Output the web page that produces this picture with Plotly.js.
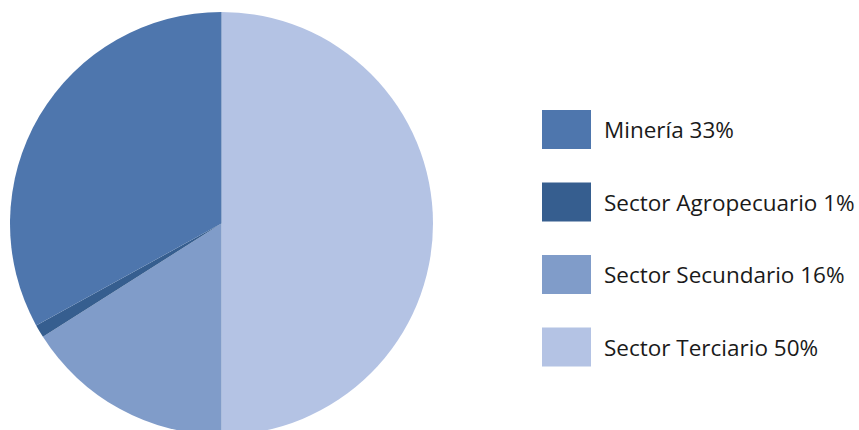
<!DOCTYPE html>
<html>
<head>
<meta charset="utf-8">
<script src="https://cdn.plot.ly/plotly-3.0.1.min.js"></script>
<style>
html,body{margin:0;padding:0;overflow:hidden;background:#fff;}
#chart{width:859px;height:460px;}
</style>
</head>
<body>
<div id="chart"></div>
<script>
const labels = ["Minería", "Sector Agropecuario", "Sector Secundario", "Sector Terciario"];
const values = [33, 1, 16, 50];
const colors = ["#4E76AD", "#365E8F", "#809CC9", "#B4C3E4"];

const H = 460, W = 859;
const trace = {
  type: "pie",
  labels: labels.slice().reverse(),
  values: values.slice().reverse(),
  sort: false,
  direction: "clockwise",
  rotation: 0,
  textinfo: "none",
  hoverinfo: "label+percent",
  marker: {colors: colors.slice().reverse(), line: {width: 0}},
  domain: {x: [10 / W, 433 / W], y: [(H - 435) / H, (H - 12) / H]},
  showlegend: false
};

const shapes = [], annotations = [];
labels.forEach((lab, i) => {
  const cy = 129.5 + 72.5 * i;
  shapes.push({
    type: "rect", xref: "paper", yref: "paper",
    x0: 542 / W, x1: 591 / W,
    y0: (H - (cy + 19.5)) / H, y1: (H - (cy - 19.5)) / H,
    fillcolor: colors[i], line: {width: 0}
  });
  annotations.push({
    xref: "paper", yref: "paper",
    x: 602 / W, y: (H - cy) / H,
    xanchor: "left", yanchor: "middle",
    text: lab + " " + values[i] + "%",
    showarrow: false,
    font: {family: "Open Sans", size: 22.5, color: "#1a1a1a"}
  });
});

Plotly.newPlot("chart", [trace], {
  width: W, height: H,
  margin: {l: 0, r: 0, t: 0, b: 0},
  paper_bgcolor: "#ffffff",
  plot_bgcolor: "#ffffff",
  shapes: shapes,
  annotations: annotations
}, {displayModeBar: false, staticPlot: true});
</script>
</body>
</html>
